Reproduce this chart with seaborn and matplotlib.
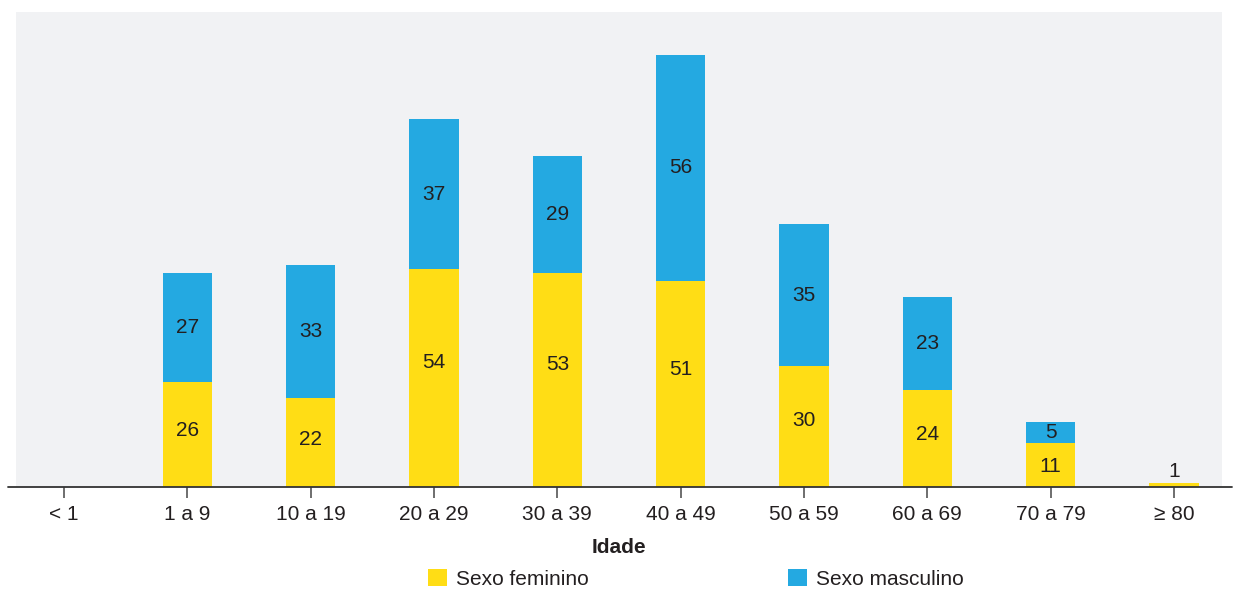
import matplotlib
matplotlib.use("Agg")
import matplotlib.pyplot as plt
import seaborn as sns
import pandas as pd
import numpy as np
from matplotlib.patches import Patch

categories = ["< 1", "1 a 9", "10 a 19", "20 a 29", "30 a 39", "40 a 49",
              "50 a 59", "60 a 69", "70 a 79", "≥ 80"]
feminino = [0, 26, 22, 54, 53, 51, 30, 24, 11, 1]
masculino = [0, 27, 33, 37, 29, 56, 35, 23, 5, 0]
series_names = ["Sexo feminino", "Sexo masculino"]
x_title = "Idade"

YELLOW = "#FFDD15"
BLUE = "#24A9E1"
BG = "#F1F2F4"
TXT = "#231F20"

sns.set_theme(style="white")
plt.rcParams['font.family'] = ['Liberation Sans', 'DejaVu Sans']

df = pd.DataFrame({"cat": categories, "fem": feminino, "masc": masculino})
df["total"] = df["fem"] + df["masc"]

fig = plt.figure(figsize=(12.35, 5.9), dpi=100)
ax = fig.add_axes([16/1235, 103/590, 1206/1235, 475/590])
ax.set_facecolor(BG)

sns.barplot(data=df, x="cat", y="total", color=BLUE, width=0.4,
            saturation=1, ax=ax, order=categories, linewidth=0)
sns.barplot(data=df, x="cat", y="fem", color=YELLOW, width=0.4,
            saturation=1, ax=ax, order=categories, linewidth=0)

cont_total = ax.containers[0]
cont_fem = ax.containers[1]

# labels for male segments (centered in blue part)
for rect, f, m in zip(cont_total, feminino, masculino):
    if m > 0:
        ax.text(rect.get_x() + rect.get_width() / 2, f + m / 2, str(m),
                ha="center", va="center", fontsize=15, color=TXT)
# labels for female segments (placed slightly above the segment middle)
for rect, f, m in zip(cont_fem, feminino, masculino):
    if f <= 0:
        continue
    if f >= 4:
        ax.text(rect.get_x() + rect.get_width() / 2, 0.6 * f - 1.5, str(f),
                ha="center", va="center", fontsize=15, color=TXT)
    else:
        ax.annotate(str(f), (rect.get_x() + rect.get_width() / 2, f),
                    xytext=(0, 1.5), textcoords="offset points",
                    ha="center", va="bottom", fontsize=15, color=TXT)

ax.set_xlim(-0.39, 9.39)
ax.set_ylim(0, 117.6)
ax.set_yticks([])
for s in ["top", "right", "left", "bottom"]:
    ax.spines[s].set_visible(False)

ax.axhline(0, xmin=-8/1206, xmax=1 + 10/1206, color="#333333", lw=1.3,
           clip_on=False, zorder=5)

ax.tick_params(axis="x", length=8, width=1.2, color="#555555",
               labelsize=15, labelcolor=TXT, pad=5, bottom=True)
ax.set_xlabel(x_title, fontsize=15, fontweight="bold", color=TXT, labelpad=10)
ax.set_ylabel("")

handles = [Patch(facecolor=YELLOW, edgecolor="none"),
           Patch(facecolor=BLUE, edgecolor="none")]
fig.legend(handles, series_names, loc="center left",
           bbox_to_anchor=(428/1235, 11/590), ncol=2, frameon=False,
           fontsize=15, handlelength=0.92, handleheight=0.9,
           handletextpad=0.4, columnspacing=9.6, borderpad=0,
           borderaxespad=0, labelcolor=TXT)

fig.savefig("out.png", dpi=100, facecolor="white")
